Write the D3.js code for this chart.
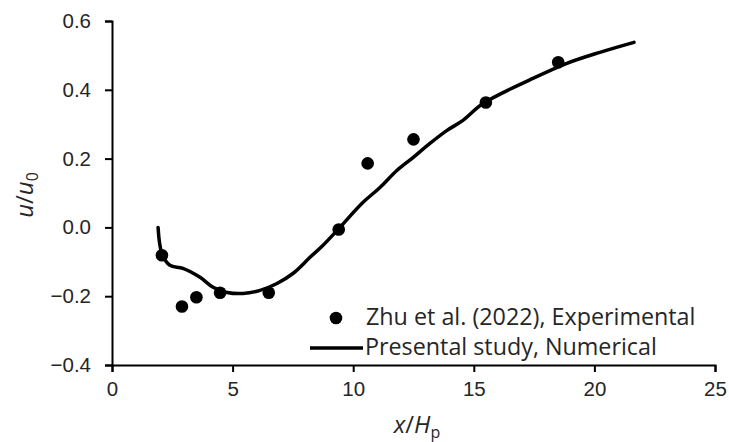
<!DOCTYPE html>
<html>
<head>
<meta charset="utf-8">
<script src="https://cdn.jsdelivr.net/npm/d3@7"></script>
<style>
  body { margin: 0; background: #fff; }
  svg { display: block; font-family: "Open Sans", sans-serif; }
  .tick text { fill: #262626; font-size: 20.5px; }
</style>
</head>
<body>
<div id="chart"></div>
<script>
// experimental points (Zhu et al. 2022)
const expX = [2.07, 2.9, 3.5, 4.48, 6.5, 9.4, 10.6, 12.5, 15.5, 18.5];
const expY = [-0.081, -0.23, -0.203, -0.19, -0.19, -0.006, 0.186, 0.256, 0.363, 0.48];

// numerical curve (present study)
const numX = [1.91, 2.07, 2.40, 2.94, 3.65, 4.19, 4.77, 5.43, 6.14, 6.84, 7.50, 8.21, 8.75, 9.33, 10.41, 11.11, 11.82, 12.48, 13.18, 13.89, 14.55, 15.38, 17.45, 18.86, 20.23, 21.64];
const numY = [0.0, -0.076, -0.110, -0.119, -0.145, -0.174, -0.189, -0.192, -0.183, -0.163, -0.134, -0.087, -0.052, -0.009, 0.073, 0.116, 0.166, 0.203, 0.244, 0.282, 0.311, 0.360, 0.433, 0.477, 0.509, 0.538];

const xTicks = [0, 5, 10, 15, 20, 25];
const yTicks = [-0.4, -0.2, 0.0, 0.2, 0.4, 0.6];

const width = 729, height = 442;

const svg = d3.select("#chart").append("svg")
  .attr("width", width)
  .attr("height", height);

const x = d3.scaleLinear().domain([0, 25]).range([112, 715]);
const y = d3.scaleLinear().domain([-0.4, 0.6]).range([365, 21]);

const fmtY = d => (d < 0 ? "\u2212" : "") + Math.abs(d).toFixed(1);

// axes
const xAxis = svg.append("g")
  .attr("transform", `translate(0,${y(-0.4)})`)
  .call(d3.axisBottom(x).tickValues(xTicks).tickSize(7).tickPadding(9).tickFormat(d3.format("d")));

const yAxis = svg.append("g")
  .attr("transform", `translate(${x(0)},0)`)
  .call(d3.axisLeft(y).tickValues(yTicks).tickSize(7).tickPadding(14).tickFormat(fmtY));

[xAxis, yAxis].forEach(a => {
  a.select(".domain").attr("stroke", "#000").attr("stroke-width", 2);
  a.selectAll(".tick line").attr("stroke", "#000").attr("stroke-width", 2);
});

// axis titles
svg.append("text")
  .attr("x", 417)
  .attr("y", 433)
  .attr("text-anchor", "middle")
  .attr("fill", "#262626")
  .style("font-size", "24px")
  .html('<tspan font-style="italic">x</tspan>/<tspan font-style="italic">H</tspan><tspan font-size="16px" dy="5">p</tspan>');

svg.append("text")
  .attr("transform", "translate(33,195) rotate(-90)")
  .attr("text-anchor", "middle")
  .attr("fill", "#262626")
  .style("font-size", "24px")
  .html('<tspan font-style="italic">u</tspan>/<tspan font-style="italic">u</tspan><tspan font-size="16px" dy="5">0</tspan>');

// numerical line
const line = d3.line()
  .x((d, i) => x(numX[i]))
  .y((d, i) => y(numY[i]))
  .curve(d3.curveCatmullRom);

svg.append("path")
  .datum(numX)
  .attr("d", line)
  .attr("fill", "none")
  .attr("stroke", "#000")
  .attr("stroke-width", 3.5)
  .attr("stroke-linejoin", "round")
  .attr("stroke-linecap", "round");

// experimental dots
svg.append("g")
  .selectAll("circle")
  .data(expX)
  .join("circle")
  .attr("cx", d => x(d))
  .attr("cy", (d, i) => y(expY[i]))
  .attr("r", 6.3)
  .attr("fill", "#000");

// legend
const legend = svg.append("g");
legend.append("circle").attr("cx", 336).attr("cy", 318).attr("r", 6.3).attr("fill", "#000");
legend.append("text").attr("x", 366).attr("y", 325)
  .attr("fill", "#262626").style("font-size", "23.3px")
  .text("Zhu et al. (2022), Experimental");
legend.append("line").attr("x1", 310).attr("x2", 363).attr("y1", 348).attr("y2", 348)
  .attr("stroke", "#000").attr("stroke-width", 3.5);
legend.append("text").attr("x", 365).attr("y", 355)
  .attr("fill", "#262626").style("font-size", "23.3px")
  .text("Presental study, Numerical");
</script>
</body>
</html>
